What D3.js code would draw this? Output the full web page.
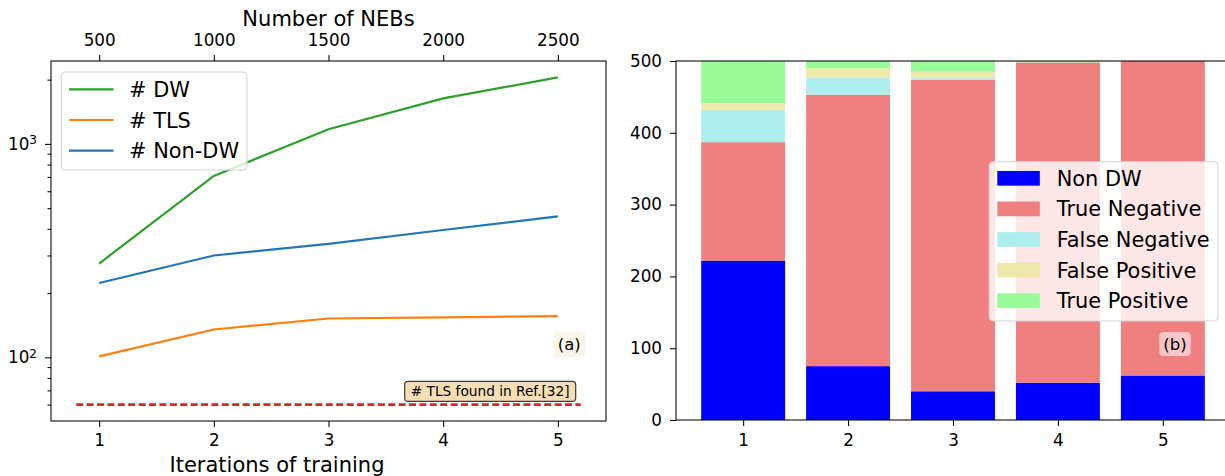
<!DOCTYPE html>
<html>
<head>
<meta charset="utf-8">
<script src="https://cdn.jsdelivr.net/npm/d3@7"></script>
<style>
  body { margin: 0; background: #fff; }
  svg { display: block; font-family: "DejaVu Sans", sans-serif; }
</style>
</head>
<body>
<svg id="chart" width="1225" height="476"></svg>
<script>
// panel (a): counts vs training iteration
const iterations = [1, 2, 3, 4, 5];
const nebCounts = [500, 1000, 1500, 2000, 2500];
const dwCounts = [275, 708, 1172, 1633, 2050];
const tlsCounts = [101, 135, 152, 154, 156];
const nonDwCounts = [223, 300, 340, 395, 457];
const tlsRef = 60;
const tlsRefSpan = [0.8, 5.2];
const logTicks = [100, 1000];

// panel (b): classification of 500 samples per iteration
const barLabels = ['Non DW', 'True Negative', 'False Negative', 'False Positive', 'True Positive'];
const nonDw = [222, 75, 40, 52, 62];
const trueNeg = [165, 378, 434, 446, 438];
const falseNeg = [45, 24, 3, 0, 0];
const falsePos = [9, 13, 8, 0, 0];
const truePos = [59, 10, 15, 2, 0];
const barTicks = [0, 100, 200, 300, 400, 500];

const svg = d3.select('#chart');
const font = '"DejaVu Sans", sans-serif';

function styleAxis(g) {
  g.selectAll('.domain').remove();
  g.selectAll('line').attr('stroke', '#000').attr('stroke-width', 1.05);
  g.selectAll('text').attr('fill', '#000').style('font-size', '16.8px').style('font-family', font);
}

// ---------- panel (a) ----------
const A = {left: 51, right: 606, top: 61, bottom: 421};

const xA = d3.scaleLinear().domain([0.58, 5.42]).range([A.left, A.right]);
const lo = Math.log10(tlsRef), hi = Math.log10(d3.max(dwCounts));
const pad = (hi - lo) * 0.05;
const yA = d3.scaleLog().domain([10 ** (lo - pad), 10 ** (hi + pad)]).range([A.bottom, A.top]);

const minorTicks = [];
for (let d = 10; d <= 1000; d *= 10) {
  for (let k = 2; k <= 9; k++) {
    const v = d * k;
    if (v >= yA.domain()[0] && v <= yA.domain()[1]) minorTicks.push(v);
  }
}

const gA = svg.append('g');

gA.append('g')
  .attr('transform', `translate(0,${A.bottom})`)
  .call(d3.axisBottom(xA).tickValues(iterations).tickFormat(d3.format('d')).tickSize(6).tickPadding(7.5))
  .call(styleAxis);

const xTop = d3.scaleLinear().domain([xA.domain()[0] * 500, xA.domain()[1] * 500]).range([A.left, A.right]);
gA.append('g')
  .attr('transform', `translate(0,${A.top})`)
  .call(d3.axisTop(xTop).tickValues(nebCounts).tickFormat(d3.format('d')).tickSize(6).tickPadding(9))
  .call(styleAxis);

gA.append('g')
  .attr('transform', `translate(${A.left},0)`)
  .call(d3.axisLeft(yA).tickValues(minorTicks).tickFormat('').tickSize(3.5))
  .call(styleAxis);

const yAxisA = gA.append('g')
  .attr('transform', `translate(${A.left},0)`)
  .call(d3.axisLeft(yA).tickValues(logTicks).tickFormat('').tickSize(6).tickPadding(9))
  .call(styleAxis);
yAxisA.selectAll('.tick text').each(function(d) {
  const t = d3.select(this).text(null).attr('x', -14).attr('dy', '0.32em');
  t.append('tspan').text('10');
  t.append('tspan').text(Math.round(Math.log10(d))).attr('dy', '-0.45em').style('font-size', '12px');
});

gA.append('text')
  .attr('x', (A.left + A.right) / 2).attr('y', 26)
  .attr('text-anchor', 'middle').style('font-size', '21px')
  .text('Number of NEBs');
gA.append('text')
  .attr('x', 277).attr('y', 472)
  .attr('text-anchor', 'middle').style('font-size', '21px')
  .text('Iterations of training');

const lineA = d3.line().x((d, i) => xA(iterations[i])).y(d => yA(d));
const seriesA = [
  {name: '# DW', values: dwCounts, color: '#2ca02c'},
  {name: '# TLS', values: tlsCounts, color: '#ff7f0e'},
  {name: '# Non-DW', values: nonDwCounts, color: '#1f77b4'}
];
seriesA.forEach(s => {
  gA.append('path')
    .attr('d', lineA(s.values))
    .attr('fill', 'none').attr('stroke', s.color).attr('stroke-width', 2.2);
});

gA.append('line')
  .attr('x1', xA(tlsRefSpan[0])).attr('x2', xA(tlsRefSpan[1]))
  .attr('y1', yA(tlsRef)).attr('y2', yA(tlsRef))
  .attr('stroke', '#d62728').attr('stroke-width', 2.6).attr('stroke-dasharray', '7,3.4');

// note box over the reference line
const noteX = xA(4.41), noteY = yA(69.2);
gA.append('rect')
  .attr('x', noteX - 85.5).attr('y', noteY - 10).attr('width', 171).attr('height', 20)
  .attr('rx', 3.5).attr('fill', '#f5deb3').attr('stroke', '#3a3a3a').attr('stroke-width', 1.2);
gA.append('text')
  .attr('x', noteX).attr('y', noteY).attr('dy', '0.36em')
  .attr('text-anchor', 'middle').style('font-size', '13.7px')
  .text('# TLS found in Ref.[32]');

// (a) label
const labAx = xA(5.1), labAy = yA(115);
gA.append('rect')
  .attr('x', labAx - 16).attr('y', labAy - 12.8).attr('width', 32).attr('height', 25.6)
  .attr('rx', 4).attr('fill', '#fcf5ea');
gA.append('text')
  .attr('x', labAx).attr('y', labAy).attr('dy', '0.36em')
  .attr('text-anchor', 'middle').style('font-size', '16.5px').text('(a)');

// legend (a)
const legA = gA.append('g');
legA.append('rect')
  .attr('x', 61.3).attr('y', 72).attr('width', 185.7).attr('height', 98)
  .attr('rx', 4).attr('fill', 'rgba(255,255,255,0.8)').attr('stroke', '#d3d3d3').attr('stroke-width', 1);
seriesA.forEach((s, i) => {
  const cy = 89.3 + i * 30.7;
  legA.append('line').attr('x1', 69).attr('x2', 113.5).attr('y1', cy).attr('y2', cy)
    .attr('stroke', s.color).attr('stroke-width', 2.2);
  legA.append('text').attr('x', 129).attr('y', cy).attr('dy', '0.36em')
    .style('font-size', '20.9px').text(s.name);
});

gA.append('rect')
  .attr('x', A.left).attr('y', A.top).attr('width', A.right - A.left).attr('height', A.bottom - A.top)
  .attr('fill', 'none').attr('stroke', '#000').attr('stroke-width', 1.05);

// ---------- panel (b) ----------
const B = {left: 676, right: 1230, top: 61, bottom: 420};
const xB = d3.scaleLinear().domain([0.36, 5.64]).range([B.left, B.right]);
const yB = d3.scaleLinear().domain([0, 500]).range([B.bottom, B.top]);
const barColors = ['#0000ff', '#f08080', '#afeeee', '#eee8aa', '#98fb98'];

const table = iterations.map((it, i) => ({
  it, 'Non DW': nonDw[i], 'True Negative': trueNeg[i], 'False Negative': falseNeg[i],
  'False Positive': falsePos[i], 'True Positive': truePos[i]
}));
const stacked = d3.stack().keys(barLabels)(table);

const gB = svg.append('g');
const clip = svg.append('clipPath').attr('id', 'clipB');
clip.append('rect').attr('x', B.left).attr('y', B.top).attr('width', B.right - B.left).attr('height', B.bottom - B.top);

const barW = xB(0.8) - xB(0);
gB.append('g').attr('clip-path', 'url(#clipB)')
  .selectAll('g')
  .data(stacked)
  .join('g')
  .attr('fill', (d, i) => barColors[i])
  .selectAll('rect')
  .data(d => d)
  .join('rect')
  .attr('x', d => xB(d.data.it) - barW / 2)
  .attr('y', d => yB(d[1]))
  .attr('width', barW)
  .attr('height', d => yB(d[0]) - yB(d[1]));

gB.append('g')
  .attr('transform', `translate(0,${B.bottom})`)
  .call(d3.axisBottom(xB).tickValues(iterations).tickFormat(d3.format('d')).tickSize(6).tickPadding(8.5))
  .call(styleAxis);
gB.append('g')
  .attr('transform', `translate(${B.left},0)`)
  .call(d3.axisLeft(yB).tickValues(barTicks).tickSize(6).tickPadding(8))
  .call(styleAxis);

// legend (b)
const legB = gB.append('g');
legB.append('rect')
  .attr('x', 989.2).attr('y', 161.7).attr('width', 228.8).attr('height', 159.3)
  .attr('rx', 4).attr('fill', 'rgba(255,255,255,0.8)').attr('stroke', '#d3d3d3').attr('stroke-width', 1);
barLabels.forEach((name, i) => {
  const cy = 178.3 + i * 30.6;
  legB.append('rect').attr('x', 997.3).attr('y', cy - 7.35).attr('width', 42.5).attr('height', 14.7)
    .attr('fill', barColors[i]);
  legB.append('text').attr('x', 1056.7).attr('y', cy).attr('dy', '0.36em')
    .style('font-size', '20.9px').text(name);
});

// (b) label
const labBx = xB(5.116), labBy = yB(106);
gB.append('rect')
  .attr('x', labBx - 15.7).attr('y', labBy - 12).attr('width', 31.4).attr('height', 24)
  .attr('rx', 4).attr('fill', 'rgba(255,255,255,0.55)');
gB.append('text')
  .attr('x', labBx).attr('y', labBy).attr('dy', '0.36em')
  .attr('text-anchor', 'middle').style('font-size', '16.5px').text('(b)');

gB.append('rect')
  .attr('x', B.left).attr('y', B.top).attr('width', B.right - B.left).attr('height', B.bottom - B.top)
  .attr('fill', 'none').attr('stroke', '#000').attr('stroke-width', 1.05);
</script>
</body>
</html>
